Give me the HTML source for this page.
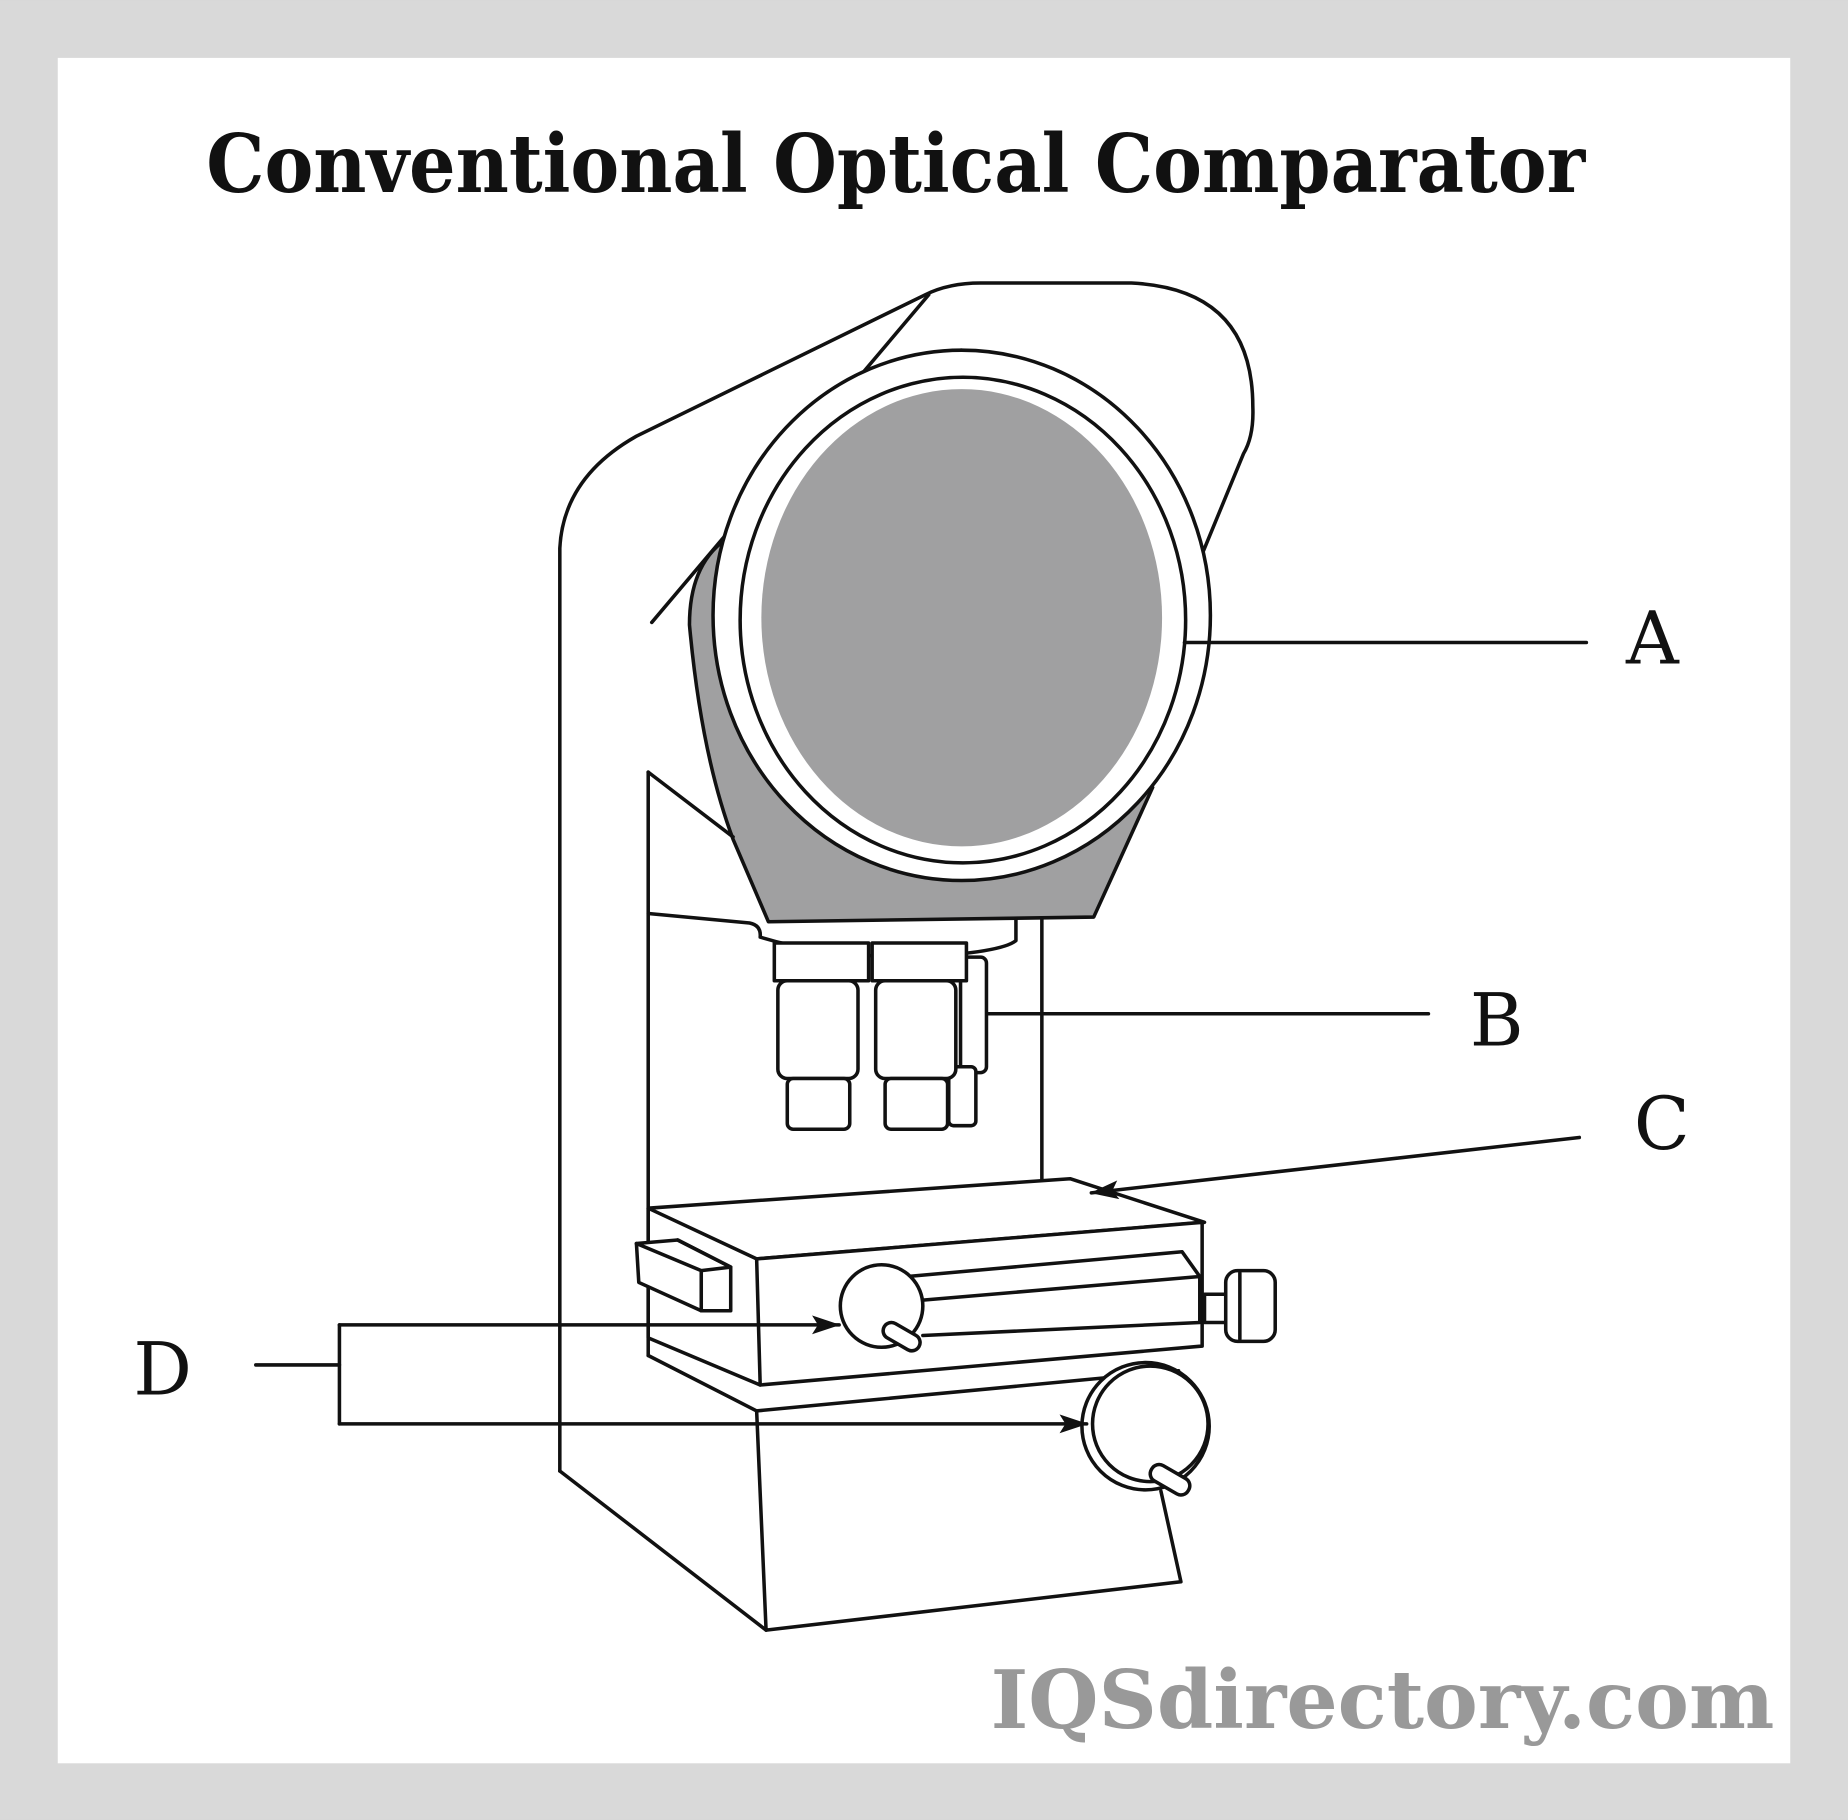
<!DOCTYPE html>
<html><head><meta charset="utf-8"><style>
html,body{margin:0;padding:0;background:#d9d9d9;}
svg{display:block;}
</style></head><body>
<svg width="1848" height="1820" viewBox="0 0 1568 1544" xmlns="http://www.w3.org/2000/svg">
<defs>
<marker id="ar" markerWidth="10" markerHeight="8" refX="9" refY="4" orient="auto" markerUnits="userSpaceOnUse" viewBox="0 0 10 8">
<path d="M0,0 L10,4 L0,8 z" fill="#111"/></marker>
<marker id="ar2" viewBox="0 0 24 16" refX="23" refY="8" markerWidth="24" markerHeight="16" orient="auto" markerUnits="userSpaceOnUse">
<path d="M0,0 L24,8 L0,16 L5,8 z" fill="#111"/></marker>
</defs>
<rect x="0" y="0" width="1568" height="1544" fill="#d9d9d9"/>
<rect x="49" y="49" width="1470" height="1447" fill="#fff"/>
<text x="760" y="163" text-anchor="middle" font-family="'DejaVu Serif','Liberation Serif',serif" font-weight="bold" font-size="68" textLength="1170" lengthAdjust="spacingAndGlyphs" fill="#111">Conventional Optical Comparator</text>
<text x="1173" y="1466" text-anchor="middle" font-family="'DejaVu Serif','Liberation Serif',serif" font-weight="bold" font-size="68" textLength="665" lengthAdjust="spacingAndGlyphs" fill="#999">IQSdirectory.com</text>

<g fill="none" stroke="#111" stroke-width="3" stroke-linejoin="round" stroke-linecap="round">
<!-- body column -->
<path d="M475,1248 L475,465 Q478,405 540,370 L785,250 Q805,240 832,240 L960,240 Q1063,245 1063,345 Q1064,370 1055,385 L1020,470"/>
<line x1="553" y1="528" x2="788" y2="250"/>
<path d="M735,318 Q780,298 816,297"/>
<!-- gray housing -->
<path d="M615,458 Q585,480 585,530 Q595,640 622,712 L652,782 L928,778 L978,668" fill="#a0a0a1"/>
<ellipse cx="816" cy="522" rx="211" ry="225" fill="#fff"/>
<ellipse cx="817" cy="526" rx="189" ry="206" fill="#fff"/>
<ellipse cx="816" cy="524" rx="170" ry="194" fill="#a0a0a1" stroke="none"/>
<!-- lower column -->
<line x1="550" y1="655" x2="550" y2="1150"/>
<line x1="550" y1="655" x2="622" y2="710"/>
<path d="M550,775 L636,783 Q646,785 645,795 Q700,812 780,812 Q850,808 862,798 L862,780"/>
<line x1="884" y1="780" x2="884" y2="1000"/>
<!-- lenses -->
<rect x="815" y="812" width="22" height="98" rx="5" fill="#fff"/>
<rect x="805" y="905" width="23" height="50" rx="4" fill="#fff"/>
<rect x="657" y="800" width="80" height="32" fill="#fff"/>
<rect x="660" y="832" width="68" height="83" rx="8" fill="#fff"/>
<rect x="668" y="915" width="53" height="43" rx="5" fill="#fff"/>
<rect x="740" y="800" width="80" height="32" fill="#fff"/>
<rect x="743" y="832" width="68" height="83" rx="8" fill="#fff"/>
<rect x="751" y="915" width="53" height="43" rx="5" fill="#fff"/>
<!-- stage -->
<path d="M550,1025 L908,1000 L1022,1037 L642,1068 Z" fill="#fff"/>
<path d="M642,1068 L1020,1037 L1020,1142 L645,1175 Z" fill="#fff"/>
<path d="M550,1025 L550,1135 L645,1175"/>
<path d="M550,1150 L642,1197 L1000,1163"/>
<path d="M642,1197 L650,1383 L1002,1342 L985,1265"/>
<line x1="475" y1="1248" x2="650" y2="1383"/>
<path d="M540,1055 L575,1052 L620,1075 L620,1112 L595,1112 L542,1088 Z" fill="#fff"/>
<path d="M575,1052 L620,1075 M595,1112 L595,1078 L620,1075 M540,1055 L595,1078"/>
<path d="M770,1083 L1003,1062 L1018,1083 L1018,1122 L783,1133 M783,1103 L1018,1083"/>
<rect x="1022" y="1098" width="25" height="24" fill="#fff"/>
<rect x="1040" y="1078" width="42" height="60" rx="10" fill="#fff"/>
<line x1="1052" y1="1080" x2="1052" y2="1136"/>
<!-- dial 1 -->
<circle cx="748" cy="1108" r="35" fill="#fff"/>
<rect x="748" y="1127" width="34" height="14" rx="7" transform="rotate(30 765 1134)" fill="#fff"/>
<!-- dial 2 -->
<circle cx="972" cy="1210" r="54" fill="#fff"/>
<circle cx="976" cy="1208" r="49" fill="#fff"/>
<rect x="975" y="1248" width="36" height="15" rx="7" transform="rotate(30 993 1255)" fill="#fff"/>
<!-- leader lines -->
<line x1="1005" y1="545" x2="1346" y2="545"/>
<line x1="838" y1="860" x2="1212" y2="860"/>
<line x1="1340" y1="965" x2="926" y2="1012" marker-end="url(#ar2)"/>
<line x1="217" y1="1158" x2="288" y2="1158"/>
<line x1="288" y1="1124" x2="288" y2="1208"/>
<line x1="288" y1="1124" x2="712" y2="1124" marker-end="url(#ar2)"/>
<line x1="288" y1="1208" x2="922" y2="1208" marker-end="url(#ar2)"/>
</g>
<g font-family="'DejaVu Serif','Liberation Serif',serif" font-size="62" fill="#111" text-anchor="middle">
<text x="1402" y="563">A</text>
<text x="1270" y="887">B</text>
<text x="1410" y="975">C</text>
<text x="138" y="1183">D</text>
</g>
</svg>
</body></html>
